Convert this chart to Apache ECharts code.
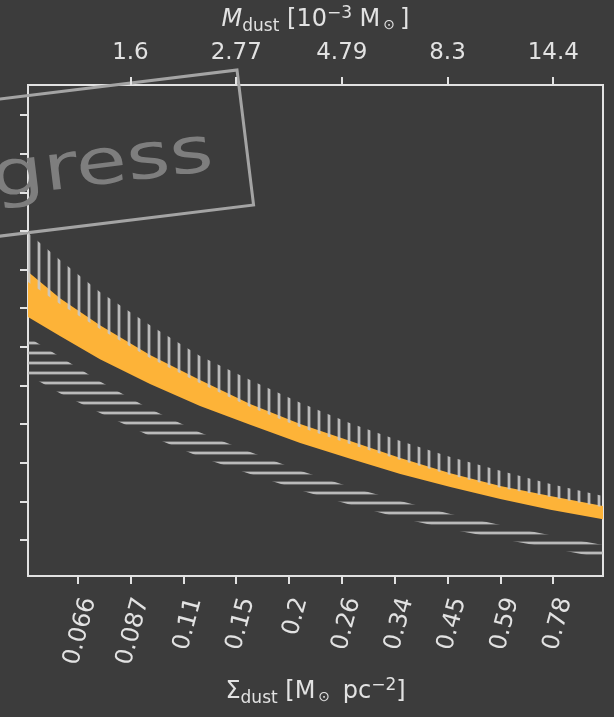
<!DOCTYPE html>
<html>
<head>
<meta charset="utf-8">
<script src="https://cdn.jsdelivr.net/npm/echarts@6/dist/echarts.min.js"></script>
<style>
html,body{margin:0;padding:0;background:#3c3c3c;}
#main{width:614px;height:717px;}
</style>
</head>
<body>
<div id="main"></div>
<script>
// surface density samples, M_sun pc^-2
var sigmaDust = [0.0508, 0.060, 0.0739, 0.0959, 0.1244, 0.1615, 0.2096, 0.272, 0.353, 0.458, 0.594, 0.771, 1.014];

// orange band (filled)
var fillLow  = [5.77, 5.28, 4.68, 4.04, 3.47, 2.98, 2.51, 2.10, 1.71, 1.37, 1.06, 0.78, 0.54];
var fillHigh = [6.94, 6.26, 5.56, 4.79, 4.14, 3.52, 3.00, 2.56, 2.12, 1.73, 1.40, 1.14, 0.88];
// upper band, vertical hatch
var vhatchLow  = [6.68, 6.11, 5.46, 4.71, 4.06, 3.44, 2.92, 2.48, 2.07, 1.68, 1.35, 1.11, 0.85];
var vhatchHigh = [7.95, 7.25, 6.42, 5.56, 4.76, 4.14, 3.55, 3.02, 2.56, 2.15, 1.79, 1.45, 1.14];
// lower band, horizontal hatch
var hhatchLow  = [4.27, 3.80, 3.29, 2.69, 2.15, 1.71, 1.29, 0.91, 0.57, 0.28, 0.03, -0.21, -0.47];
var hhatchHigh = [5.25, 4.74, 4.10, 3.39, 2.78, 2.28, 1.79, 1.37, 1.01, 0.67, 0.39, 0.12, -0.13];

var sigmaTicks = [0.0658, 0.0866, 0.1141, 0.1502, 0.1978, 0.2604, 0.3429, 0.4514, 0.5943, 0.7825];
var sigmaTickLabels = ['0.066', '0.087', '0.11', '0.15', '0.2', '0.26', '0.34', '0.45', '0.59', '0.78'];
var mdustTicks = [1.597, 2.77, 4.80, 8.32, 14.43];
var mdustTickLabels = ['1.6', '2.77', '4.79', '8.3', '14.4'];
var yTicks = [0, 1, 2, 3, 4, 5, 6, 7, 8, 9, 10, 11];

var SIGMA_MIN = 0.0508, SIGMA_MAX = 1.014;
var MDUST_PER_SIGMA = 18.44;   // 10^-3 M_sun per (M_sun pc^-2)

var fg = '#e2e2e2';
var fontFam = 'DejaVu Sans';

function pick(ticks, labels, v){
  var best = 0;
  for (var i = 1; i < ticks.length; i++) {
    if (Math.abs(Math.log(ticks[i] / v)) < Math.abs(Math.log(ticks[best] / v))) best = i;
  }
  return labels[best];
}

function hatch(vertical){
  var c = document.createElement('canvas');
  c.width = 10; c.height = 10;
  var g = c.getContext('2d');
  g.fillStyle = 'rgba(200,200,200,0.9)';
  if (vertical) g.fillRect(8, 0, 2, 10); else g.fillRect(0, 2, 10, 2);
  g.fillStyle = 'rgba(200,200,200,0.35)';
  if (vertical) { g.fillRect(7, 0, 1, 10); g.fillRect(0, 0, 1, 10); }
  else { g.fillRect(0, 1, 10, 1); g.fillRect(0, 4, 10, 1); }
  return {image: c, repeat: 'repeat'};
}

// band between low and high, drawn as one polygon through the axes
function band(low, high, fill, z){
  return {
    type: 'custom', coordinateSystem: 'cartesian2d', silent: true, z: z,
    data: sigmaDust.map(function(s, i){ return [s, low[i], high[i]]; }),
    encode: {x: 0, y: [1, 2]},
    renderItem: function(params, api){
      if (params.dataIndex !== 0) return null;
      var pts = [];
      for (var i = 0; i < sigmaDust.length; i++) pts.push(api.coord([sigmaDust[i], high[i]]));
      for (var j = sigmaDust.length - 1; j >= 0; j--) pts.push(api.coord([sigmaDust[j], low[j]]));
      return {type: 'polygon', shape: {points: pts}, style: {fill: fill, stroke: null}};
    }
  };
}

var richName = {
  n: {fontSize: 24, lineHeight: 24, color: fg, fontFamily: fontFam},
  it: {fontSize: 24, lineHeight: 24, color: fg, fontFamily: fontFam, fontStyle: 'italic'},
  sub: {fontSize: 17, lineHeight: 17, color: fg, fontFamily: fontFam, padding: [13, 0, 0, 0]},
  sup: {fontSize: 17, lineHeight: 17, color: fg, fontFamily: fontFam, padding: [0, 0, 13, 0]},
  odot: {fontSize: 14, lineHeight: 14, color: fg, fontFamily: fontFam, padding: [11, 5, 0, 3]}
};

var chart = echarts.init(document.getElementById('main'), null, {renderer: 'canvas'});

chart.setOption({
  backgroundColor: '#3c3c3c',
  animation: false,
  grid: {left: 28, right: 11, top: 85, bottom: 141, show: true, borderColor: fg, borderWidth: 2, backgroundColor: 'transparent'},
  xAxis: [{
    type: 'log', position: 'bottom', min: SIGMA_MIN, max: SIGMA_MAX,
    axisLine: {show: false, onZero: false},
    splitLine: {show: false},
    axisTick: {show: true, customValues: sigmaTicks, length: 8, lineStyle: {color: fg, width: 2}},
    axisLabel: {
      customValues: sigmaTicks, rotate: 75, margin: 19, color: fg, fontSize: 24, fontFamily: fontFam,
      verticalAlign: 'top',
      formatter: function(v){ return pick(sigmaTicks, sigmaTickLabels, v); }
    },
    name: '{n|Σ}{sub|dust}{n| [M}{odot|⊙}{n| pc}{sup|−2}{n|]}',
    nameLocation: 'middle', nameGap: 104,
    nameTextStyle: {rich: richName}
  }, {
    type: 'log', position: 'top',
    min: SIGMA_MIN * MDUST_PER_SIGMA, max: SIGMA_MAX * MDUST_PER_SIGMA,
    axisLine: {show: false, onZero: false},
    splitLine: {show: false},
    axisTick: {show: true, customValues: mdustTicks, length: 8, lineStyle: {color: fg, width: 2}},
    axisLabel: {
      customValues: mdustTicks, margin: 20, color: fg, fontSize: 23, fontFamily: fontFam,
      formatter: function(v){ return pick(mdustTicks, mdustTickLabels, v); }
    },
    name: '{it|M}{sub|dust}{n| [10}{sup|−3}{n| M}{odot|⊙}{n|]}',
    nameLocation: 'middle', nameGap: 53,
    nameTextStyle: {rich: richName}
  }],
  yAxis: {
    type: 'value', min: -0.932, max: 11.777,
    axisLine: {show: false, onZero: false},
    splitLine: {show: false},
    axisTick: {show: true, customValues: yTicks, length: 8, lineStyle: {color: fg, width: 2}},
    axisLabel: {show: false}
  },
  series: [
    band(fillLow, fillHigh, '#fdb338', 2),
    band(vhatchLow, vhatchHigh, hatch(true), 3),
    band(hhatchLow, hhatchHigh, hatch(false), 3)
  ],
  graphic: [{
    type: 'group', x: 237, y: 70, rotation: 7 * Math.PI / 180, z: 100,
    children: [
      {type: 'rect', shape: {x: -700, y: 0, width: 700, height: 136},
       style: {fill: 'none', stroke: '#a4a4a4', lineWidth: 3}},
      {type: 'text', x: -34, y: 112, scaleX: 1.3,
       style: {text: 'in progress', fill: '#7e7e7e', font: '64px "DejaVu Sans"', align: 'right', verticalAlign: 'bottom'}}
    ]
  }]
});
</script>
</body>
</html>
